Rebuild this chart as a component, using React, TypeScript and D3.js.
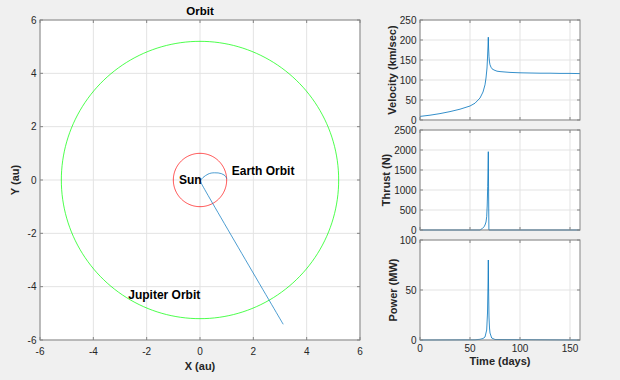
import React from "react";
import * as d3 from "d3";

const trajX = [1.0, 0.97, 0.9, 0.8, 0.68, 0.55, 0.42, 0.3, 0.2, 0.11, 0.05, 0.02, 0.04, 0.1, 3.12];
const trajY = [0.05, 0.12, 0.19, 0.24, 0.265, 0.27, 0.26, 0.22, 0.16, 0.09, 0.03, -0.03, -0.1, -0.22, -5.41];

const earthR = 1.0;
const jupiterR = 5.2;

const velT = [0, 10, 20, 30, 40, 50, 55, 60, 63, 65, 66, 67, 67.5, 68, 68.3, 68.6, 69, 69.5, 70, 71, 72, 74, 77, 80, 85, 90, 100, 110, 120, 130, 140, 150, 160];
const velV = [9, 12, 16, 21, 27, 35, 42, 55, 70, 88, 105, 130, 155, 185, 207, 180, 158, 145, 138, 132, 128, 125, 122, 121, 120, 119, 118, 117.5, 117, 117, 116.5, 116.5, 116];

const thrT = [0, 60, 62, 64, 65, 66, 66.7, 67.2, 67.7, 68, 68.3, 68.9, 160];
const thrV = [0, 0, 30, 80, 125, 200, 333, 600, 1083, 1500, 1958, 0, 0];

const powT = [0, 55, 60, 63, 65, 66.7, 67.5, 68, 68.3, 68.6, 69, 69.5, 70, 71.7, 75, 160];
const powV = [0, 0.2, 0.7, 1.5, 3, 10, 27, 55, 80, 50, 23, 12, 7, 2, 0.5, 0];

const orbitTicks = [-6, -4, -2, 0, 2, 4, 6];
const timeTicks = [0, 50, 100, 150];
const velTicks = [0, 50, 100, 150, 200, 250];
const thrTicks = [0, 500, 1000, 1500, 2000, 2500];
const powTicks = [0, 50, 100];

const FONT = "'Liberation Sans', Arial, Helvetica, sans-serif";
const TXT = "#262626";
const BOX = "#858585";
const GRID = "#e3e3e3";
const BLUE = "#0072BD";

type AxProps = {
  x: d3.ScaleLinear<number, number>;
  y: d3.ScaleLinear<number, number>;
  xTicks: number[];
  yTicks: number[];
  showXLabels: boolean;
  xLabelY: number;
  children?: React.ReactNode;
};

function Axes({ x, y, xTicks, yTicks, showXLabels, xLabelY, children }: AxProps) {
  const [x0, x1] = x.range();
  const [y0, y1] = y.range();
  const top = Math.min(y0, y1), bottom = Math.max(y0, y1);
  const tl = 3;
  return (
    <g>
      <rect x={x0} y={top} width={x1 - x0} height={bottom - top} fill="#fff" />
      {xTicks.map((t) => (
        <line key={"gx" + t} x1={x(t)} x2={x(t)} y1={top} y2={bottom} stroke={GRID} strokeWidth={1} />
      ))}
      {yTicks.map((t) => (
        <line key={"gy" + t} x1={x0} x2={x1} y1={y(t)} y2={y(t)} stroke={GRID} strokeWidth={1} />
      ))}
      {children}
      <rect x={x0} y={top} width={x1 - x0} height={bottom - top} fill="none" stroke={BOX} strokeWidth={1} />
      {xTicks.map((t) => (
        <g key={"tx" + t}>
          <line x1={x(t)} x2={x(t)} y1={bottom} y2={bottom - tl} stroke={BOX} />
          <line x1={x(t)} x2={x(t)} y1={top} y2={top + tl} stroke={BOX} />
          {showXLabels && (
            <text x={x(t)} y={xLabelY} textAnchor="middle" fontSize={10} fill={TXT} fontFamily={FONT}>
              {t}
            </text>
          )}
        </g>
      ))}
      {yTicks.map((t) => (
        <g key={"ty" + t}>
          <line x1={x0} x2={x0 + tl} y1={y(t)} y2={y(t)} stroke={BOX} />
          <line x1={x1} x2={x1 - tl} y1={y(t)} y2={y(t)} stroke={BOX} />
          <text x={x0 - 3.5} y={y(t)} dy="0.35em" textAnchor="end" fontSize={10} fill={TXT} fontFamily={FONT}>
            {t}
          </text>
        </g>
      ))}
    </g>
  );
}

export default function App() {
  const W = 620, H = 380;
  const ox = d3.scaleLinear().domain([-6, 6]).range([40, 360]);
  const oy = d3.scaleLinear().domain([-6, 6]).range([340, 20]);

  const tx = d3.scaleLinear().domain([0, 160]).range([420, 580]);
  const vy = d3.scaleLinear().domain([0, 250]).range([120, 20]);
  const ty = d3.scaleLinear().domain([0, 2500]).range([230, 130]);
  const py = d3.scaleLinear().domain([0, 100]).range([340, 240]);

  const trajLine = d3.line<number>().x((_, i) => ox(trajX[i])).y((_, i) => oy(trajY[i])).curve(d3.curveCatmullRom);
  const circle = (r: number) => {
    const pts = d3.range(0, 361, 2).map((a) => [r * Math.cos((a * Math.PI) / 180), r * Math.sin((a * Math.PI) / 180)]);
    return d3.line<number[]>().x((p) => ox(p[0])).y((p) => oy(p[1]))(pts) || "";
  };
  const series = (T: number[], V: number[], ys: d3.ScaleLinear<number, number>) =>
    d3.line<number>().x((_, i) => tx(T[i])).y((_, i) => ys(V[i]))(T) || "";

  const rot = (x: number, y: number, s: string) => (
    <text x={x} y={y} transform={`rotate(-90 ${x} ${y})`} textAnchor="middle" dy="0.35em" fontSize={11} fontWeight="bold" fill={TXT} fontFamily={FONT}>
      {s}
    </text>
  );

  return (
    <svg width={W} height={H} style={{ position: "absolute", left: 0, top: 0 }}>
      <rect x={0} y={0} width={W} height={H} fill="#f0f0f0" />
      <Axes x={ox} y={oy} xTicks={orbitTicks} yTicks={orbitTicks} showXLabels={true} xLabelY={355}>
        <path d={circle(jupiterR)} fill="none" stroke="#00ff00" strokeWidth={0.7} />
        <path d={circle(earthR)} fill="none" stroke="#ff0000" strokeWidth={0.7} />
        <path d={trajLine(trajX) || ""} fill="none" stroke={BLUE} strokeWidth={0.7} />
        <text x={ox(-0.79)} y={oy(0)} dy="0.35em" fontSize={12} fontWeight="bold" fill="#000" fontFamily={FONT}>Sun</text>
        <text x={ox(1.19)} y={oy(0.34)} dy="0.35em" fontSize={12} fontWeight="bold" fill="#000" fontFamily={FONT}>Earth Orbit</text>
        <text x={ox(-2.69)} y={oy(-4.29)} dy="0.35em" fontSize={12} fontWeight="bold" fill="#000" fontFamily={FONT}>Jupiter Orbit</text>
      </Axes>
      <text x={200} y={15} textAnchor="middle" fontSize={11.5} fontWeight="bold" fill="#000" fontFamily={FONT}>Orbit</text>
      <text x={200} y={370} textAnchor="middle" fontSize={11} fontWeight="bold" fill={TXT} fontFamily={FONT}>X (au)</text>
      {rot(15, 180, "Y (au)")}

      <Axes x={tx} y={vy} xTicks={timeTicks} yTicks={velTicks} showXLabels={false} xLabelY={0}>
        <path d={series(velT, velV, vy)} fill="none" stroke={BLUE} strokeWidth={0.8} />
      </Axes>
      <Axes x={tx} y={ty} xTicks={timeTicks} yTicks={thrTicks} showXLabels={false} xLabelY={0}>
        <path d={series(thrT, thrV, ty)} fill="none" stroke={BLUE} strokeWidth={0.8} />
      </Axes>
      <Axes x={tx} y={py} xTicks={timeTicks} yTicks={powTicks} showXLabels={true} xLabelY={352}>
        <path d={series(powT, powV, py)} fill="none" stroke={BLUE} strokeWidth={0.8} />
      </Axes>
      {rot(392.5, 70, "Velocity (km/sec)")}
      {rot(386, 180, "Thrust (N)")}
      {rot(393, 290, "Power (MW)")}
      <text x={500} y={365} textAnchor="middle" fontSize={11} fontWeight="bold" fill={TXT} fontFamily={FONT}>Time (days)</text>
    </svg>
  );
}
